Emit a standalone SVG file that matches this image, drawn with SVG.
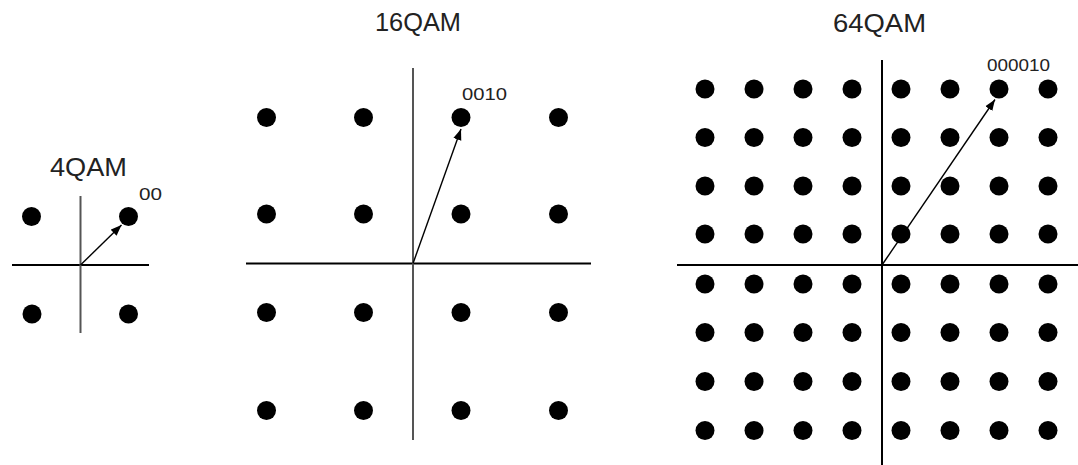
<svg xmlns="http://www.w3.org/2000/svg" width="1078" height="465" viewBox="0 0 1078 465">
  <style>
    .title { font-family: "Liberation Sans", Arial, sans-serif; font-size: 25px; fill: #222; text-anchor: middle; }
    .lbl { font-family: "Liberation Sans", Arial, sans-serif; font-size: 17px; fill: #222; }
    .axis { stroke: #000; stroke-width: 2; fill: none; }
    .vaxis { stroke: #555; stroke-width: 2; fill: none; }
    .dot { fill: #000; }
    .vec { stroke: #000; stroke-width: 1.4; fill: none; marker-end: url(#ah); }
  </style>
  <defs>
    <marker id="ah" markerUnits="userSpaceOnUse" markerWidth="12" markerHeight="10" refX="11" refY="5" orient="auto">
      <path d="M0,0.8 L11,5 L0,9.2 Z" fill="#000"/>
    </marker>
    <circle id="d" r="9.5" class="dot"/>
  </defs>
  <rect width="1078" height="465" fill="#fff"/>

  <g id="qam4">
    <text class="title" x="88.5" y="176" textLength="77" lengthAdjust="spacingAndGlyphs">4QAM</text>
    <line class="axis" x1="12" y1="265" x2="149" y2="265"/>
    <line class="vaxis" x1="80.5" y1="196" x2="80.5" y2="333"/>
    <use href="#d" x="31.5" y="216.5"/>
    <use href="#d" x="128.5" y="216.5"/>
    <use href="#d" x="32" y="314"/>
    <use href="#d" x="128.5" y="314"/>
    <text class="lbl" x="139" y="200" textLength="23" lengthAdjust="spacingAndGlyphs">00</text>
  </g>

  <g id="qam16">
    <text class="title" x="418" y="31" textLength="86" lengthAdjust="spacingAndGlyphs">16QAM</text>
    <line class="axis" x1="246" y1="263.5" x2="591" y2="263.5"/>
    <line class="vaxis" x1="413" y1="68" x2="413" y2="440"/>
    <use href="#d" x="266.5" y="117.5"/><use href="#d" x="363.5" y="117.5"/><use href="#d" x="461" y="117.5"/><use href="#d" x="558.5" y="117.5"/>
    <use href="#d" x="266.5" y="214"/><use href="#d" x="363.5" y="214"/><use href="#d" x="461" y="214"/><use href="#d" x="558.5" y="214"/>
    <use href="#d" x="266.5" y="312.5"/><use href="#d" x="363.5" y="312.5"/><use href="#d" x="461" y="312.5"/><use href="#d" x="558.5" y="312.5"/>
    <use href="#d" x="266.5" y="410.5"/><use href="#d" x="363.5" y="410.5"/><use href="#d" x="461" y="410.5"/><use href="#d" x="558.5" y="410.5"/>
    <text class="lbl" x="462" y="100" textLength="45" lengthAdjust="spacingAndGlyphs">0010</text>
  </g>

  <g id="qam64">
    <text class="title" x="879.5" y="32" textLength="93" lengthAdjust="spacingAndGlyphs">64QAM</text>
    <line class="axis" x1="677" y1="265" x2="1078" y2="265"/>
    <line class="axis" x1="882" y1="60" x2="882" y2="465"/>
    <g id="row1"><use href="#d" x="705" y="89"/><use href="#d" x="754" y="89"/><use href="#d" x="803" y="89"/><use href="#d" x="852" y="89"/><use href="#d" x="901" y="89"/><use href="#d" x="950" y="89"/><use href="#d" x="999" y="89"/><use href="#d" x="1048" y="89"/></g>
    <g id="row2"><use href="#d" x="705" y="137.5"/><use href="#d" x="754" y="137.5"/><use href="#d" x="803" y="137.5"/><use href="#d" x="852" y="137.5"/><use href="#d" x="901" y="137.5"/><use href="#d" x="950" y="137.5"/><use href="#d" x="999" y="137.5"/><use href="#d" x="1048" y="137.5"/></g>
    <g id="row3"><use href="#d" x="705" y="186"/><use href="#d" x="754" y="186"/><use href="#d" x="803" y="186"/><use href="#d" x="852" y="186"/><use href="#d" x="901" y="186"/><use href="#d" x="950" y="186"/><use href="#d" x="999" y="186"/><use href="#d" x="1048" y="186"/></g>
    <g id="row4"><use href="#d" x="705" y="234"/><use href="#d" x="754" y="234"/><use href="#d" x="803" y="234"/><use href="#d" x="852" y="234"/><use href="#d" x="901" y="234"/><use href="#d" x="950" y="234"/><use href="#d" x="999" y="234"/><use href="#d" x="1048" y="234"/></g>
    <g id="row5"><use href="#d" x="705" y="284"/><use href="#d" x="754" y="284"/><use href="#d" x="803" y="284"/><use href="#d" x="852" y="284"/><use href="#d" x="901" y="284"/><use href="#d" x="950" y="284"/><use href="#d" x="999" y="284"/><use href="#d" x="1048" y="284"/></g>
    <g id="row6"><use href="#d" x="705" y="332.5"/><use href="#d" x="754" y="332.5"/><use href="#d" x="803" y="332.5"/><use href="#d" x="852" y="332.5"/><use href="#d" x="901" y="332.5"/><use href="#d" x="950" y="332.5"/><use href="#d" x="999" y="332.5"/><use href="#d" x="1048" y="332.5"/></g>
    <g id="row7"><use href="#d" x="705" y="381.5"/><use href="#d" x="754" y="381.5"/><use href="#d" x="803" y="381.5"/><use href="#d" x="852" y="381.5"/><use href="#d" x="901" y="381.5"/><use href="#d" x="950" y="381.5"/><use href="#d" x="999" y="381.5"/><use href="#d" x="1048" y="381.5"/></g>
    <g id="row8"><use href="#d" x="705" y="430.5"/><use href="#d" x="754" y="430.5"/><use href="#d" x="803" y="430.5"/><use href="#d" x="852" y="430.5"/><use href="#d" x="901" y="430.5"/><use href="#d" x="950" y="430.5"/><use href="#d" x="999" y="430.5"/><use href="#d" x="1048" y="430.5"/></g>
    <text class="lbl" x="987" y="71" textLength="63" lengthAdjust="spacingAndGlyphs">000010</text>
  </g>

  <g id="connectors">
    <line class="vec" x1="80.5" y1="265" x2="121.5" y2="225"/>
    <line class="vec" x1="413" y1="263.5" x2="461" y2="129"/>
    <line class="vec" x1="882" y1="265" x2="995" y2="99.5"/>
  </g>
</svg>
